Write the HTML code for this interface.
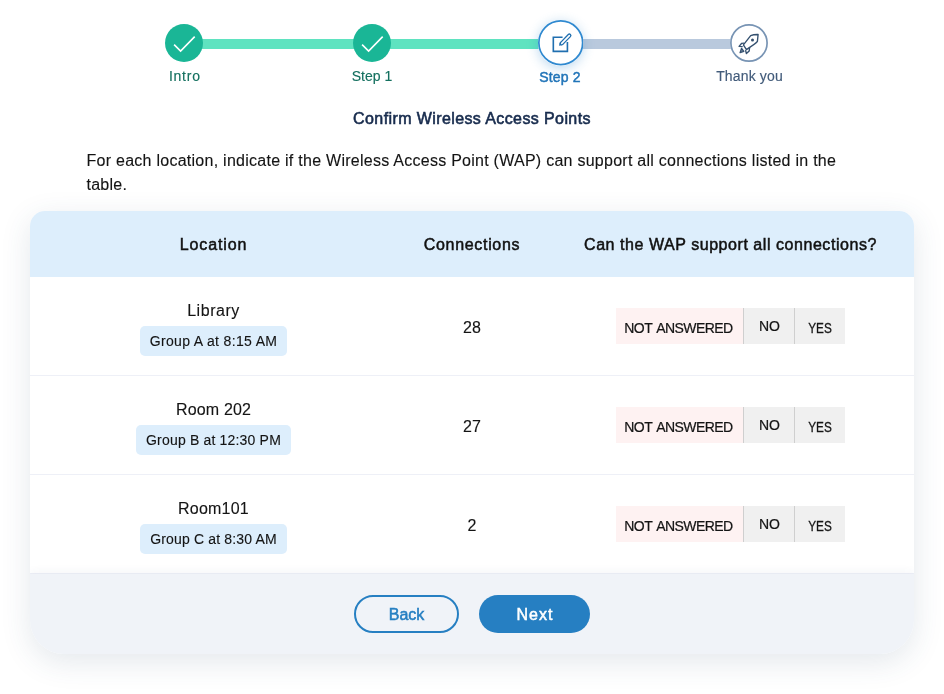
<!DOCTYPE html>
<html lang="en">
<head>
<meta charset="utf-8">
<title>Confirm Wireless Access Points</title>
<style>
  html, body { margin: 0; padding: 0; }
  body {
    width: 944px; height: 694px; overflow: hidden; position: relative;
    background: #ffffff;
    font-family: "Liberation Sans", sans-serif;
    font-size: 16px; color: #141414;
    -webkit-text-stroke: .12px #141414;
  }
  /* ---------- stepper ---------- */
  .stepper { position: absolute; left: 0; top: 0; width: 944px; height: 100px; }
  .bar { position: absolute; top: 39px; height: 10px; }
  .bar.done { background: #5fe3c0; }
  .bar.todo { background: #b9c9dd; }
  .dot { position: absolute; border-radius: 50%; box-sizing: border-box; }
  .dot.done { width: 38px; height: 38px; top: 24px; background: #1ab696; }
  .dot.current { width: 45.5px; height: 45.5px; top: 20.1px; background: #fff; box-shadow: 0 2px 12px rgba(43,134,204,.32); }
  .dot.todo { width: 38px; height: 38px; top: 24px; background: #fff; }
  .dot svg { position: absolute; left: 0; top: 0; width: 100%; height: 100%; display: block; }
  .lbl { position: absolute; font-size: 14px; line-height: 20px; white-space: nowrap; transform: translateX(-50%); }
  .lbl.done { color: #14705f; top: 66px; -webkit-text-stroke: .15px #14705f; }
  .lbl.current { color: #2174b8; font-weight: normal; -webkit-text-stroke: .45px #2174b8; top: 67px; }
  .lbl.todo { color: #425b7a; top: 66px; -webkit-text-stroke: .15px #425b7a; }

  /* ---------- heading ---------- */
  h1 { position: absolute; left: 0; width: 944px; top: 107px; letter-spacing: .4px; margin: 0; text-align: center;
       font-size: 16px; line-height: 24px; font-weight: normal; -webkit-text-stroke: .6px #172b4d; color: #172b4d; }
  .intro { position: absolute; left: 86.5px; top: 148.5px; width: 800px; letter-spacing: .262px; margin: 0; font-size: 16px; line-height: 24px; color: #141414; }

  /* ---------- card ---------- */
  .card { position: absolute; left: 30px; top: 211px; width: 884px; height: 443px; border-radius: 15px 15px 34px 34px;
          background: #fff; box-shadow: 0 8px 30px rgba(50,75,110,.13); overflow: hidden; }
  .row { display: flex; align-items: center; box-sizing: border-box; }
  .row > div { text-align: center; }
  .c1 { width: 367px; } .c2 { width: 150px; } .c3 { width: 367px; }
  .head { height: 66px; background: #ddeefc; font-weight: normal; -webkit-text-stroke: .5px #111; color: #111; padding-top: 2px; letter-spacing: .55px; }
  .item { height: 99px; border-bottom: 1px solid #eef0f7; }
  .item .c1 { padding-top: 1px; }
  .item .c2 { padding-top: 3px; }
  .loc { line-height: 24px; position: relative; top: 1.5px; }
  .badge { display: inline-block; margin-top: 5px; padding: 0 10px; height: 30px; line-height: 31px; font-size: 14px; background: #ddeefc; border-radius: 5px; box-sizing: border-box; white-space: nowrap; }
  .toggle { display: inline-flex; height: 36px; font-size: 14px; vertical-align: middle; position: relative; top: .4px; -webkit-text-stroke: .22px #1a1a1a; }
  .toggle span { display: block; height: 36px; line-height: 40px; box-sizing: border-box; text-align: center; white-space: nowrap; }
  .toggle .na { width: 127px; background: #fef2f2; letter-spacing: -.55px; word-spacing: 1.65px; padding-right: 2px; }
  .toggle .no { width: 51px; background: #f0f0f0; border-left: 1px solid #cfcfcf; line-height: 37px; padding-left: 1px; }
  .toggle .yes { width: 51px; background: #f0f0f0; border-left: 1px solid #cfcfcf; }
  .toggle .yes b { display: inline-block; font-weight: normal; transform: scaleX(.84); -webkit-text-stroke: .3px #1a1a1a; }
  .foot { position: absolute; left: 0; top: 363px; width: 884px; height: 80px; background: #f0f3f8; box-shadow: 0 -3px 8px rgba(50,75,110,.045); }
  .btn { position: absolute; top: 21px; height: 38px; border-radius: 19px; box-sizing: border-box; font-size: 16px; font-weight: normal; text-align: center; line-height: 40px; white-space: nowrap; }
  .btn.back { left: 324px; width: 105px; border: 2px solid #267fc2; color: #267fc2; -webkit-text-stroke: .5px #267fc2; line-height: 36px; letter-spacing: 0px; }
  .btn.next { left: 449px; width: 111px; background: #267fc2; color: #fff; -webkit-text-stroke: .5px #fff; letter-spacing: 1px; padding-left: 1px; }
</style>
</head>
<body>

<div class="stepper">
  <div class="bar done" style="left:184px;width:378px"></div>
  <div class="bar todo" style="left:562px;width:186px"></div>

  <div class="dot done" style="left:165px">
    <svg viewBox="0 0 38 38"><path d="M9.1 20.6 L15.6 27.1 L29.7 12.6" fill="none" stroke="#fff" stroke-width="1.6"/></svg>
  </div>
  <div class="dot done" style="left:353px">
    <svg viewBox="0 0 38 38"><path d="M9.1 20.6 L15.6 27.1 L29.7 12.6" fill="none" stroke="#fff" stroke-width="1.6"/></svg>
  </div>
  <div class="dot current" style="left:537.7px">
    <svg viewBox="0 0 45 45">
      <circle cx="22.5" cy="22.5" r="21.65" fill="#fff" stroke="#2f89d0" stroke-width="1.7"/>
      <path d="M24.3 17 H15.15 V31 H29.1 V21.8" fill="none" stroke="#206fb0" stroke-width="1.6"/>
      <path d="M23.5 23.1 L31 15.4" fill="none" stroke="#206fb0" stroke-width="4.2" stroke-linecap="round"/>
      <path d="M20.7 25.5 L21.8 21.3 L25.0 24.5 Z" fill="#206fb0"/>
      <path d="M23.5 23.1 L31 15.4" fill="none" stroke="#fff" stroke-width="1.6" stroke-linecap="round"/>
    </svg>
  </div>
  <div class="dot todo" style="left:730px">
    <svg viewBox="0 0 38 38">
      <circle cx="19" cy="19" r="18.1" fill="#fff" stroke="#7894b4" stroke-width="1.7"/>
      <g fill="none" stroke="#34506f" stroke-width="1.35" stroke-linejoin="round">
        <path d="M13.4 20.9 L20.7 11.6 Q23.5 10.4 28.1 10.5 L27.4 17.4 Q26.6 18.9 16.4 25.6 Z"/>
        <path d="M14.0 19.1 L11.7 19.3 L9.1 22.4 L12.7 22.6"/>
        <path d="M19.6 23.7 L19.2 26.9 L16.4 29.5 L15.5 26.1"/>
        <path d="M11.6 24.3 L10.1 28.6 L13.8 27.4 Z" fill="#34506f" fill-opacity=".55"/>
      </g>
      <circle cx="22.5" cy="16" r="1.5" fill="#34506f"/>
    </svg>
  </div>

  <div class="lbl done" style="left:184.8px;letter-spacing:.75px">Intro</div>
  <div class="lbl done" style="left:372px">Step 1</div>
  <div class="lbl current" style="left:560px;letter-spacing:.2px">Step 2</div>
  <div class="lbl todo" style="left:749.5px;letter-spacing:.15px">Thank you</div>
</div>

<h1>Confirm Wireless Access Points</h1>
<p class="intro">For each location, indicate if the Wireless Access Point (WAP) can support all connections listed in the<br>table.</p>

<div class="card">
  <div class="row head">
    <div class="c1" style="letter-spacing:.9px">Location</div>
    <div class="c2" style="letter-spacing:.68px">Connections</div>
    <div class="c3">Can the WAP support all connections?</div>
  </div>
  <div class="row item">
    <div class="c1"><div class="loc" style="letter-spacing:.53px">Library</div><span class="badge" style="letter-spacing:.35px">Group A at 8:15 AM</span></div>
    <div class="c2">28</div>
    <div class="c3"><div class="toggle"><span class="na">NOT ANSWERED</span><span class="no">NO</span><span class="yes"><b>YES</b></span></div></div>
  </div>
  <div class="row item">
    <div class="c1"><div class="loc" style="letter-spacing:.17px">Room 202</div><span class="badge" style="letter-spacing:.18px">Group B at 12:30 PM</span></div>
    <div class="c2">27</div>
    <div class="c3"><div class="toggle"><span class="na">NOT ANSWERED</span><span class="no">NO</span><span class="yes"><b>YES</b></span></div></div>
  </div>
  <div class="row item">
    <div class="c1"><div class="loc" style="letter-spacing:.2px">Room101</div><span class="badge" style="letter-spacing:.16px">Group C at 8:30 AM</span></div>
    <div class="c2">2</div>
    <div class="c3"><div class="toggle"><span class="na">NOT ANSWERED</span><span class="no">NO</span><span class="yes"><b>YES</b></span></div></div>
  </div>
  <div class="foot">
    <div class="btn back">Back</div>
    <div class="btn next">Next</div>
  </div>
</div>

</body>
</html>
